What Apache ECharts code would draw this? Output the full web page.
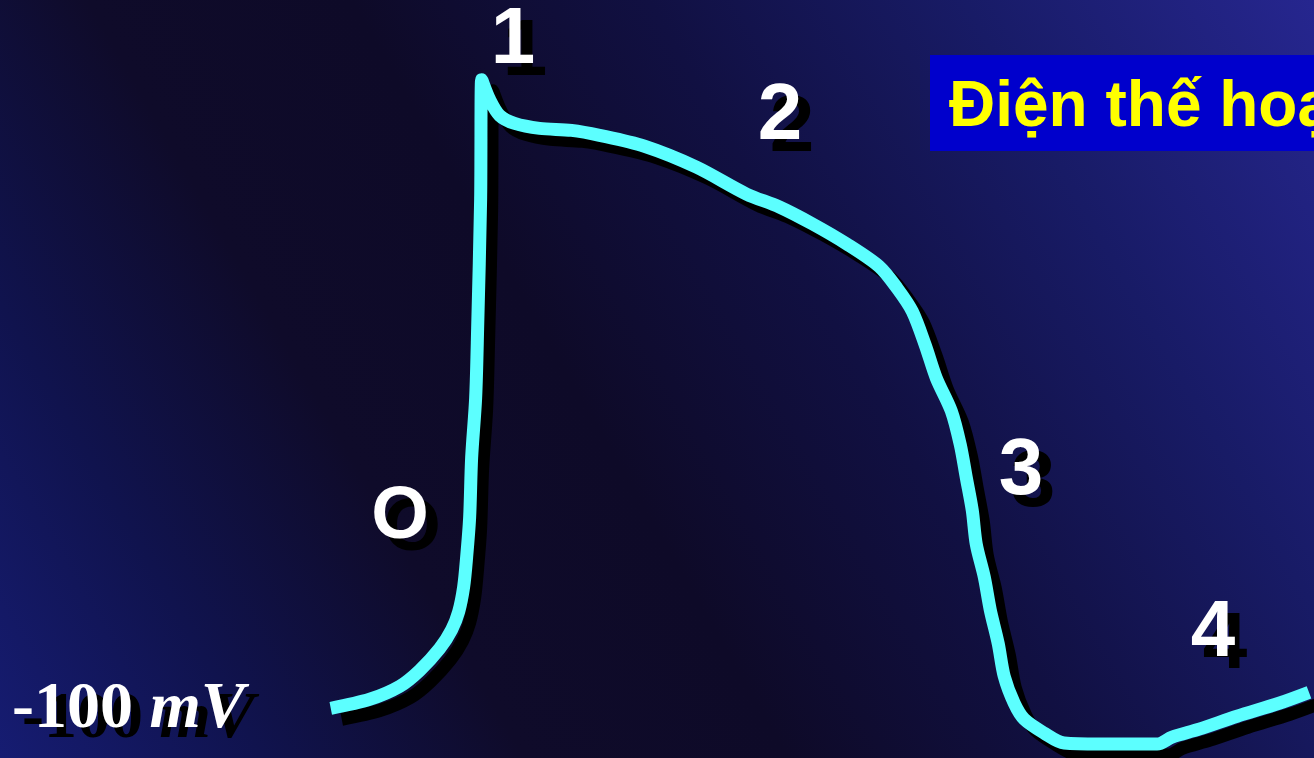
<!DOCTYPE html>
<html>
<head>
<meta charset="utf-8">
<title>Điện thế hoạt động</title>
<script src="https://cdn.jsdelivr.net/npm/echarts@6/dist/echarts.min.js"></script>
<style>
  html, body { margin: 0; padding: 0; background: #0f0b2a; }
  #chart { width: 1314px; height: 758px; }
</style>
</head>
<body>
<div id="chart"></div>
<script>
// Ventricular action potential: time (ms, 0 = upstroke) and membrane potential (mV)
const timeMs = [
  -72, -52.5, -37.5, -27.5, -17.5, -11.5, -8, -5.5, -4, -2.5, -1.5, 0.5, 1.5, 3, 3.5,
  7.5, 12.5, 20, 32.5, 48.5, 62.5, 85, 111, 136, 152.5, 169, 186, 202.5, 211.5, 219,
  225.5, 231, 238.5, 243, 246, 249, 251, 255, 258, 262, 265, 270, 275, 285, 295,
  312.5, 341.5, 349, 362.5, 381.5, 402.5, 417.5
];
const membraneMv = [
  -100, -98.2, -95.6, -92.4, -88, -84.2, -80.6, -75.6, -69.6, -61.6, -49.6, -37.6, -23.6, 2.4, 26.4,
  22.4, 19.2, 17.6, 16.6, 16.2, 15.2, 13, 8.8, 3.4, 0.8, -2.6, -6.6, -11.2, -15.6, -20.2,
  -27, -33.6, -40.2, -47, -53.6, -60.2, -67, -73.6, -80.2, -87, -93.6, -99, -102.2, -105, -107,
  -107.2, -107.2, -105.8, -104.2, -101.6, -99, -96.8
];
// Phase numbers written beside the trace
const phaseLabels = ['O', '1', '2', '3', '4'];
const restingLabel = '-100';
const restingUnit = 'mV';
const titleText = 'Điện thế hoạt động';

const chart = echarts.init(document.getElementById('chart'), null, { renderer: 'canvas' });

const points = timeMs.map((t, i) => [t, membraneMv[i]]);

// where each phase number sits on the canvas (centre, px)
const phasePos = [
  { x: 400, y: 518, size: 74 },
  { x: 513, y: 41, size: 80 },
  { x: 780, y: 117, size: 80 },
  { x: 1021, y: 472, size: 80 },
  { x: 1213, y: 634, size: 80 }
];

// hard drop shadow behind the white lettering
const shadowFor = (d) => ({
  textShadowColor: '#000000',
  textShadowBlur: 0.5,
  textShadowOffsetX: d,
  textShadowOffsetY: d
});

const phaseTexts = phaseLabels.map((label, i) => ({
  type: 'text',
  x: phasePos[i].x,
  y: phasePos[i].y,
  silent: true,
  style: Object.assign({
    text: label,
    fill: '#FFFFFF',
    font: 'bold ' + phasePos[i].size + 'px "Liberation Sans", Arial, sans-serif',
    textAlign: 'center',
    textVerticalAlign: 'middle'
  }, shadowFor(12))
}));

const restingText = {
  type: 'text',
  x: 12,
  y: 710,
  silent: true,
  style: Object.assign({
    text: '{a|' + restingLabel + ' }{b|' + restingUnit + '}',
    fill: '#FFFFFF',
    font: 'bold 66px "Liberation Serif", "Times New Roman", serif',
    textAlign: 'left',
    textVerticalAlign: 'middle',
    rich: {
      a: Object.assign({ fontFamily: '"Liberation Serif", serif', fontSize: 66, fontWeight: 'bold', color: '#FFFFFF' }, shadowFor(10)),
      b: Object.assign({ fontFamily: '"Liberation Serif", serif', fontSize: 66, fontWeight: 'bold', fontStyle: 'italic', color: '#FFFFFF' }, shadowFor(10))
    }
  }, shadowFor(10))
};

chart.setOption({
  animation: false,
  backgroundColor: {
    type: 'linear',
    x: 1, y: 0, x2: 0, y2: 1,
    colorStops: [
      { offset: 0.0, color: '#26268f' },
      { offset: 0.2, color: '#181b66' },
      { offset: 0.38, color: '#111042' },
      { offset: 0.55, color: '#0e0a28' },
      { offset: 0.7, color: '#0f0b2a' },
      { offset: 0.85, color: '#10134e' },
      { offset: 1.0, color: '#161c72' }
    ]
  },
  title: {
    text: titleText,
    left: 930,
    top: 55,
    padding: [10, 60, 0, 19],
    backgroundColor: '#0000CC',
    textStyle: {
      color: '#FFFF00',
      fontSize: 64,
      fontWeight: 'bold',
      fontFamily: '"Liberation Sans", Arial, sans-serif',
      lineHeight: 86
    }
  },
  grid: { left: 5, top: 12, width: 1310, height: 750, containLabel: false },
  xAxis: { type: 'value', min: -235, max: 420, show: false },
  yAxis: { type: 'value', min: -110, max: 40, show: false },
  series: [{
    type: 'line',
    data: points,
    symbol: 'none',
    smooth: 0.3,
    clip: false,
    lineStyle: {
      color: '#5CFFFF',
      width: 13,
      cap: 'butt',
      join: 'round',
      shadowColor: '#000000',
      shadowBlur: 0,
      shadowOffsetX: 11,
      shadowOffsetY: 11
    }
  }],
  graphic: phaseTexts.concat([restingText])
});
</script>
</body>
</html>
